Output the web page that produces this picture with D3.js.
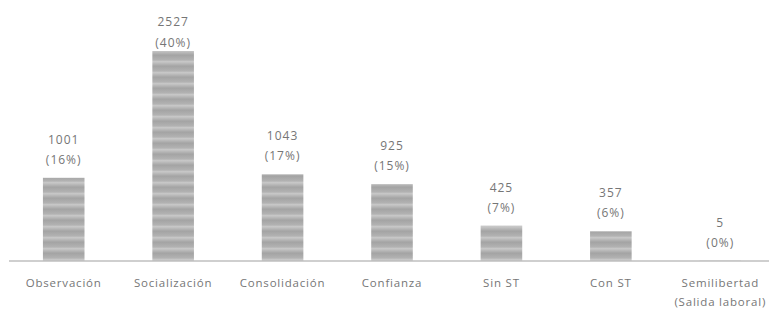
<!DOCTYPE html>
<html><head><meta charset="utf-8">
<script src="https://cdn.jsdelivr.net/npm/d3@7"></script>
<style>body{margin:0;background:#fff}svg{display:block}</style>
</head><body>
<svg id="c" width="769" height="309"></svg>
<script>
const categories = ["Observación","Socialización","Consolidación","Confianza","Sin ST","Con ST","Semilibertad|(Salida laboral)"];
const values = [1001, 2527, 1043, 925, 425, 357, 5];
const percents = ["(16%)","(40%)","(17%)","(15%)","(7%)","(6%)","(0%)"];

const svg = d3.select("#c");
const x = d3.scaleBand().domain(categories).range([9, 775]).paddingInner(0.62).paddingOuter(0.31);
const y = d3.scaleLinear().domain([0, 2527]).range([261, 51]);

const defs = svg.append("defs");
const g = defs.append("linearGradient").attr("id","sg").attr("x1",0).attr("y1",0).attr("x2",0).attr("y2",1);
[["0%","#a3a3a3"],["45%","#b2b2b2"],["60%","#c8c8c8"],["100%","#a5a5a5"]].forEach(s=>g.append("stop").attr("offset",s[0]).attr("stop-color",s[1]));
const pat = defs.append("pattern").attr("id","stripes").attr("patternUnits","userSpaceOnUse").attr("width",10).attr("height",11);
pat.append("rect").attr("width",10).attr("height",11).attr("fill","url(#sg)");

svg.selectAll("rect.bar").data(values).join("rect").attr("class","bar")
  .attr("x",(d,i)=>x(categories[i])).attr("width",x.bandwidth())
  .attr("y",d=>y(d)).attr("height",d=>y(0)-y(d))
  .attr("fill","url(#stripes)");

const font = "'Open Sans', sans-serif";
const xAxis = svg.append("g").attr("transform","translate(0,261)").call(d3.axisBottom(x).tickSize(0).tickPadding(0));
xAxis.select(".domain").attr("d","M9,0H769").attr("stroke","#bfbfbf").attr("stroke-width",1.5);
xAxis.selectAll(".tick text").each(function(d){
  const t = d3.select(this); t.text(null);
  const parts = d.split("|");
  parts.forEach((p,k)=>t.append("tspan").attr("x",0).attr("y",26+k*19).text(p));
}).attr("fill","#767676").attr("font-family",font).attr("font-size",11.5).attr("letter-spacing","0.8px").attr("dy",null);

const lab = svg.append("g").attr("font-family",font).attr("font-size",12).attr("letter-spacing","1px").attr("fill","#767676").attr("text-anchor","middle");
values.forEach((v,i)=>{
  const cx = x(categories[i]) + x.bandwidth()/2;
  lab.append("text").attr("x",cx).attr("y",Math.max(y(v)-34, 26)).text(v);
  lab.append("text").attr("x",cx).attr("y",Math.max(y(v)-14, 47)).text(percents[i]);
});
</script>
</body></html>
